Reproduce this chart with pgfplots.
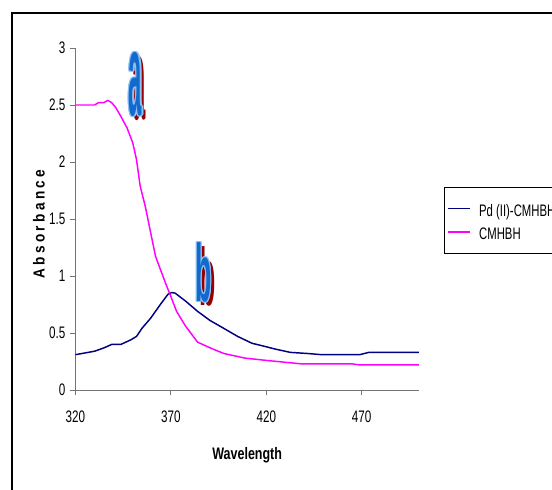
\documentclass[border=0pt]{standalone}
\usepackage{fontspec}
\setmainfont{Liberation Sans}
\usepackage{pgfplots}
\pgfplotsset{compat=1.18}
\newcommand{\nar}[1]{\scalebox{0.7}[1]{#1}}
\newcommand{\narl}[1]{\scalebox{0.68}[1]{#1}}
\newcommand{\lstrut}{\rule[-4.125pt]{0pt}{17.25pt}}
\definecolor{pdnavy}{RGB}{0,0,128}
\definecolor{cmpink}{RGB}{255,0,255}
\definecolor{artblue}{RGB}{20,105,205}
\definecolor{artlight}{RGB}{140,195,245}
\definecolor{artred}{RGB}{150,0,0}
\newcommand{\artA}{\fontsize{20}{20}\selectfont\bfseries\scalebox{0.9}[4.4]{a}}
\newcommand{\artB}{\fontsize{20}{20}\selectfont\bfseries\scalebox{1}[3.05]{b}}
\newcommand{\spaced}{\bfseries A\hspace{3pt}b\hspace{3pt}s\hspace{3pt}o\hspace{3pt}r\hspace{3pt}b\hspace{3pt}a\hspace{3pt}n\hspace{3pt}c\hspace{3pt}e}

\begin{document}
\begin{tikzpicture}
% outer frame (right and bottom fall outside the picture)
\draw[black, line width=1.1pt] (9pt,-20pt) -- (9pt,357pt) -- (460pt,357pt);
\begin{axis}[
  at={(56.6pt,74.25pt)}, anchor=south west,
  scale only axis, width=257.6pt, height=256.5pt,
  xmin=320, xmax=500, ymin=0, ymax=3,
  axis lines*=left,
  axis line style={black!55, line width=0.7pt},
  tick style={black!55, line width=0.7pt},
  tick align=outside, major tick length=4pt,
  xtick={320,370,420,470}, ytick={0,0.5,1,1.5,2,2.5,3},
  /pgf/number format/assume math mode=true,
  xticklabel={\nar{\pgfmathprintnumber{\tick}}},
  yticklabel={\nar{\pgfmathprintnumber{\tick}}},
  tick label style={font=\fontsize{12.5}{14}\selectfont},
  xticklabel style={yshift=-8pt},
  xlabel={\scalebox{0.75}[1]{\bfseries Wavelength}},
  xlabel style={at={(axis description cs:0.5,0)}, anchor=center, yshift=-48.75pt, font=\fontsize{12.5}{14}\selectfont},
  ylabel={\scalebox{0.85}[1]{\spaced}},
  ylabel style={at={(axis description cs:0,0.485)}, anchor=center, yshift=27.4pt, font=\fontsize{12}{14}\selectfont},
  legend style={at={(1.0728,0.5935)}, anchor=north west, draw=black, line width=0.6pt,
    font=\fontsize{12.5}{14}\selectfont, inner xsep=2pt, inner ysep=8.6pt, row sep=3pt,
    nodes={inner ysep=0pt}},
  legend cell align=left,
  legend image code/.code={\draw[#1, line width=1.1pt] (0pt,0pt) -- (17pt,0pt);},
]
\addplot[pdnavy, line width=1.1pt] coordinates {
(320,0.31)(325,0.325)(330,0.34)(335,0.37)(339,0.40)(343.8,0.40)(349,0.44)(352,0.47)
(354.8,0.54)(359.4,0.63)(364.9,0.76)(368.5,0.84)(370.4,0.855)(372.2,0.85)(377.7,0.78)
(384,0.69)(390.5,0.61)(397.8,0.54)(405,0.47)(412.5,0.41)(419.8,0.38)(424.4,0.36)
(432.6,0.33)(441.8,0.32)(449,0.31)(469,0.31)(473.8,0.33)(500,0.33)};
\addlegendentry{\hspace{4pt}\lstrut\narl{Pd (II)-CMHBH}}
\addplot[cmpink, line width=1.1pt] coordinates {
(320,2.50)(330,2.50)(332,2.52)(334.7,2.52)(337,2.54)(339,2.52)(341,2.48)(343.8,2.40)
(347,2.30)(350,2.17)(352,2.02)(353.9,1.79)(356.6,1.61)(359.4,1.38)(362,1.17)(364.9,1.04)
(367.6,0.92)(370,0.82)(373,0.69)(377.7,0.56)(384,0.42)(390.5,0.37)(397.8,0.32)
(408.8,0.28)(419.8,0.26)(438,0.23)(464.7,0.23)(469,0.22)(500,0.22)};
\addlegendentry{\hspace{4pt}\lstrut\narl{CMHBH}}
\coordinate (la) at (axis cs:351.5,2.68);
\coordinate (lb) at (axis cs:387.2,1.03);
\end{axis}
% WordArt-style letters
\node[inner sep=0pt, text=artred] at ([xshift=3pt,yshift=-3pt]la) {\artA};
\foreach \dx/\dy in {-1/0,1/0,0/1,0/-1,-0.7/-0.7,0.7/0.7,-0.7/0.7,0.7/-0.7}
  \node[inner sep=0pt, text=artlight] at ([xshift=\dx pt,yshift=\dy pt]la) {\artA};
\node[inner sep=0pt, text=artblue] at (la) {\artA};
\node[inner sep=0pt, text=artred] at ([xshift=3pt,yshift=-3pt]lb) {\artB};
\foreach \dx/\dy in {-1/0,1/0,0/1,0/-1,-0.7/-0.7,0.7/0.7,-0.7/0.7,0.7/-0.7}
  \node[inner sep=0pt, text=artlight] at ([xshift=\dx pt,yshift=\dy pt]lb) {\artB};
\node[inner sep=0pt, text=artblue] at (lb) {\artB};
\pgfresetboundingbox
\useasboundingbox (0,0) rectangle (414pt,366.75pt);
\end{tikzpicture}
\end{document}
